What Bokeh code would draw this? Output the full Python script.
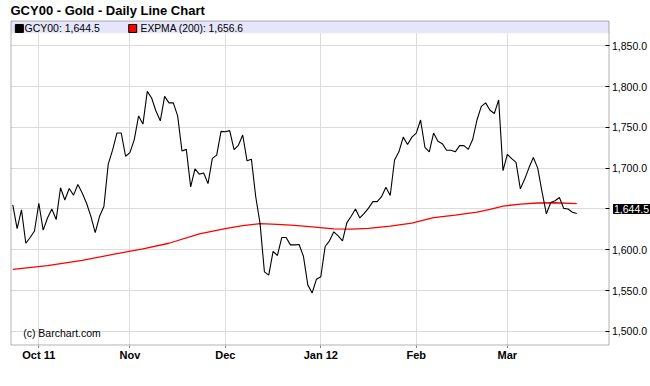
from bokeh.plotting import figure
from bokeh.models import Range1d, FixedTicker, NumeralTickFormatter, BoxAnnotation, Label
from bokeh.embed import file_html
from bokeh.resources import INLINE

symbol = "GCY00"
title_text = "GCY00 - Gold - Daily Line Chart"

# daily closes, one per trading session (Sep 2011 - Mar 2012)
price = [
    1655, 1626, 1649, 1608, 1615, 1623,
    1657, 1624, 1639, 1650, 1637, 1676, 1661, 1675, 1667, 1680, 1669.5, 1657, 1641, 1621,
    1641, 1653, 1705, 1722, 1743, 1743, 1714.6,
    1719, 1735, 1764, 1754, 1794, 1786, 1770, 1758, 1788, 1780, 1780, 1764, 1721, 1723,
    1677, 1699, 1692.7, 1694, 1681, 1712, 1716, 1745,
    1744.6, 1746, 1722.6, 1728, 1740.6, 1709, 1711, 1665, 1632, 1573, 1569, 1598, 1593,
    1615, 1615, 1606, 1606, 1606.5, 1592, 1557, 1547, 1564,
    1567, 1604, 1611, 1622, 1617, 1611, 1633, 1641, 1650, 1639, 1644.6, 1651, 1659, 1659,
    1665, 1676.6, 1666.5, 1710, 1720, 1738, 1729, 1738,
    1743, 1759, 1725.6, 1720, 1743, 1733, 1730, 1722, 1722, 1720, 1727.6, 1727.6, 1723,
    1735, 1759, 1775.6, 1780, 1771, 1767, 1783.6, 1697,
    1717, 1711.6, 1707, 1674.6, 1686.6, 1700.7, 1713, 1700, 1671, 1644, 1658, 1660, 1664,
    1650.7, 1650, 1646, 1644.5,
]
session = list(range(len(price)))

# 200-period exponential moving average, read at selected sessions
ema_session = [0, 8, 16, 24, 30, 36, 43, 49, 53, 57, 61, 65, 69, 74, 78, 82, 87, 92, 97,
               102, 107, 110, 113, 117, 121, 125, 130]
ema_value = [1576, 1580.5, 1587, 1595.2, 1601, 1608, 1619.5, 1626, 1629.5, 1632, 1631, 1630,
             1628, 1625.5, 1625.3, 1626.2, 1629, 1632.7, 1639.3, 1642.5, 1646, 1649.5, 1653.5,
             1656, 1657.3, 1657.6, 1656.6]

month_session = [6, 27, 49, 71, 93, 114]
month_labels = ["Oct 11", "Nov", "Dec", "Jan 12", "Feb", "Mar"]
y_ticks = [1500, 1550, 1600, 1650, 1700, 1750, 1800, 1850]

last_price = price[-1]
last_ema = ema_value[-1]

FONT = "Liberation Sans"

# view window (the whole canvas is the frame; the chart box sits inside it)
x0, x1 = -2.835, 147.0
y0, y1 = 1481.5, 1905.4
# chart box edges
bx0, bx1 = -0.415, 137.44
by0, by1 = 1483.34, 1880.3
band_bottom = 1865.3

p = figure(frame_width=650, frame_height=346,
           x_range=Range1d(x0, x1), y_range=Range1d(y0, y1),
           x_axis_location="below", y_axis_location="left",
           output_backend="svg", toolbar_location=None,
           min_border_left=0, min_border_top=0, min_border_right=0, min_border_bottom=4)
p.background_fill_color = "white"
p.border_fill_color = "white"
p.outline_line_color = None

# grids
p.xgrid.ticker = FixedTicker(ticks=month_session)
p.ygrid.ticker = FixedTicker(ticks=y_ticks)
for g in (p.xgrid[0], p.ygrid[0]):
    g.grid_line_color = "#DCDCDC"
    g.grid_line_width = 1

# white areas outside the chart box (drawn over the grid)
for kw in (dict(left=x0, right=bx0), dict(left=bx1, right=x1), dict(bottom=by1, top=y1)):
    p.add_layout(BoxAnnotation(fill_color="white", fill_alpha=1.0, line_color=None,
                               level="underlay", **kw))
# legend band
p.add_layout(BoxAnnotation(left=bx0, right=bx1, bottom=band_bottom, top=by1,
                           fill_color="#E6E6FA", fill_alpha=1.0, line_color=None, level="underlay"))
# chart box border
p.add_layout(BoxAnnotation(left=bx0, right=bx1, bottom=by0, top=by1, fill_alpha=0,
                           line_color="black", line_width=1, level="underlay"))

# x axis
xa = p.xaxis[0]
xa.ticker = FixedTicker(ticks=month_session)
xa.major_label_overrides = {s: lab for s, lab in zip(month_session, month_labels)}
xa.major_label_text_font = FONT
xa.major_label_text_font_style = "bold"
xa.major_label_text_font_size = "11px"
xa.major_label_text_color = "black"
xa.major_tick_in = 0
xa.major_tick_out = 1
xa.major_tick_line_color = "black"
xa.minor_tick_line_color = None
xa.major_label_standoff = 1
xa.axis_line_color = None

# price axis, drawn at the right edge of the chart box
ya = p.yaxis[0]
ya.fixed_location = bx1
ya.ticker = FixedTicker(ticks=y_ticks)
ya.formatter = NumeralTickFormatter(format="0,0.0")
ya.major_label_overrides = {1650: ""}
ya.major_label_text_font = FONT
ya.major_label_text_font_size = "10.5px"
ya.major_label_text_color = "black"
ya.major_tick_in = 0
ya.major_tick_out = 4
ya.major_tick_line_color = "black"
ya.minor_tick_line_color = None
ya.major_label_standoff = -42
ya.axis_line_color = None

# series
p.line(ema_session, ema_value, line_color="#FF0000", line_width=1.3)
p.line(session, price, line_color="black", line_width=1.1)

# legend
p.scatter([1.51], [1871.1], marker="square", size=8, fill_color="black", line_color="black")
p.scatter([27.64], [1871.1], marker="square", size=8, fill_color="#FF0000", line_color="black")
p.add_layout(Label(x=2.70, y=1871.1, text=f"{symbol}: {last_price:,.1f}", text_baseline="middle",
                   text_font=FONT, text_font_size="10.5px", text_color="black"))
p.add_layout(Label(x=29.44, y=1871.1, text=f"EXPMA (200): {last_ema:,.1f}", text_baseline="middle",
                   text_font=FONT, text_font_size="10.3px", text_color="black"))

# title
p.add_layout(Label(x=-0.53, y=1892.75, text=title_text, text_baseline="middle",
                   text_font=FONT, text_font_size="13px", text_font_style="bold", text_color="black"))

# copyright
p.add_layout(Label(x=2.4, y=1498.0, text="(c) Barchart.com", text_baseline="middle",
                   text_font=FONT, text_font_size="10.5px", text_color="black"))

# last price marker on the axis
p.add_layout(Label(x=bx1, y=1650, x_offset=4, text=f"{last_price:,.1f}", text_baseline="middle",
                   text_align="left", text_font=FONT, text_font_size="10.5px", text_color="white",
                   background_fill_color="black", padding=1))

open("out.html", "w").write(file_html(p, INLINE))
